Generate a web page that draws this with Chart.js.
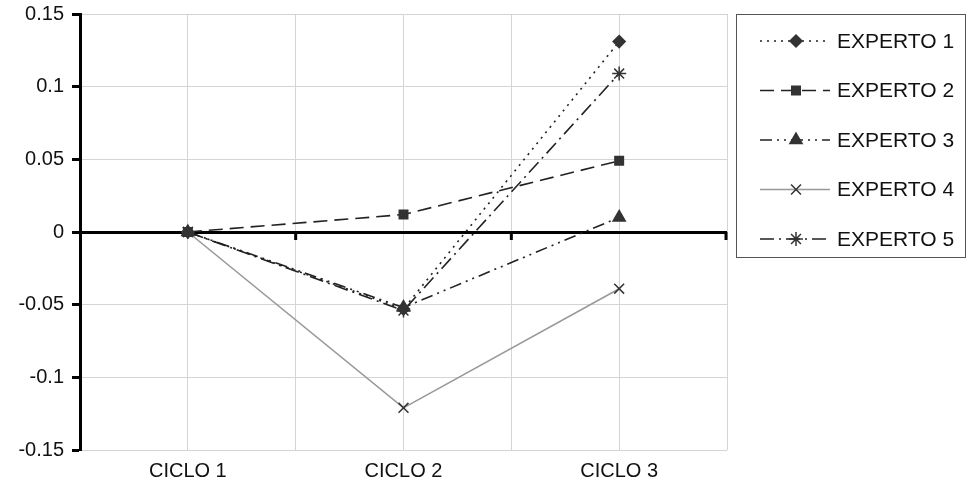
<!DOCTYPE html>
<html>
<head>
<meta charset="utf-8">
<script src="https://cdn.jsdelivr.net/npm/chart.js@4/dist/chart.umd.min.js"></script>
<style>
  html, body { margin: 0; padding: 0; background: #fff; }
  #wrap { width: 970px; height: 495px; }
</style>
</head>
<body>
<div id="wrap"><canvas id="grafico" width="970" height="495"></canvas></div>
<script>
// datos
var ciclos = ["CICLO 1", "CICLO 2", "CICLO 3"];
var experto1 = [0, -0.053, 0.131];
var experto2 = [0, 0.012, 0.049];
var experto3 = [0, -0.052, 0.010];
var experto4 = [0, -0.121, -0.039];
var experto5 = [0, -0.054, 0.109];
var nombres = ["EXPERTO 1", "EXPERTO 2", "EXPERTO 3", "EXPERTO 4", "EXPERTO 5"];

var fuente = "'Liberation Sans', Arial, sans-serif";

function puntos(valores){
    return valores.map(function(v, i){ return {x: i, y: v}; });
}

function serie(nombre, valores, color, dash, ancho, forma, radio, colorPunto){
    return {
        label: nombre,
        data: puntos(valores),
        borderColor: color,
        borderWidth: ancho,
        borderDash: dash,
        pointStyle: forma,
        pointRadius: radio,
        pointBackgroundColor: colorPunto,
        pointBorderColor: colorPunto,
        pointBorderWidth: 1.5,
        tension: 0,
        fill: false
    };
}

var series = [
    serie(nombres[0], experto1, "#222", [2, 5], 1.6, "rectRot", 6, "#333"),
    serie(nombres[1], experto2, "#222", [14, 7], 1.6, "rect", 6, "#333"),
    serie(nombres[2], experto3, "#222", [12, 5, 2, 5, 2, 5], 1.6, "triangle", 7, "#333"),
    serie(nombres[3], experto4, "#999", [], 1.6, "crossRot", 7, "#333"),
    serie(nombres[4], experto5, "#222", [14, 5, 2, 5], 1.6, "star", 7, "#333")
];

// leyenda dibujada a mano, con el estilo de linea de cada serie
var leyenda = {
    id: "leyenda",
    afterDraw: function(chart){
        var ctx = chart.ctx;
        var x0 = 736, y0 = 14, w = 229, h = 243;
        ctx.save();
        ctx.strokeStyle = "#555";
        ctx.lineWidth = 1;
        ctx.strokeRect(x0 + 0.5, y0 + 0.5, w, h);
        chart.data.datasets.forEach(function(ds, i){
            var y = 41 + i * 49.5;
            ctx.save();
            ctx.strokeStyle = ds.borderColor;
            ctx.lineWidth = ds.borderWidth;
            ctx.setLineDash(ds.borderDash);
            ctx.beginPath();
            ctx.moveTo(760, y);
            ctx.lineTo(830, y);
            ctx.stroke();
            ctx.restore();
            ctx.save();
            ctx.fillStyle = ds.pointBackgroundColor;
            ctx.strokeStyle = ds.pointBorderColor;
            ctx.lineWidth = ds.pointBorderWidth;
            Chart.helpers.drawPoint(ctx, {pointStyle: ds.pointStyle, radius: ds.pointRadius, rotation: 0, borderWidth: ds.pointBorderWidth}, 796, y);
            ctx.restore();
            ctx.fillStyle = "#111";
            ctx.font = "21px " + fuente;
            ctx.textBaseline = "middle";
            ctx.textAlign = "left";
            ctx.fillText(ds.label, 837, y + 1);
        });
        // marcas del eje horizontal en y = 0
        var sx = chart.scales.x, sy = chart.scales.y;
        var y0p = sy.getPixelForValue(0);
        ctx.strokeStyle = "#000";
        ctx.lineWidth = 3;
        [0.5, 1.5, 2.5].forEach(function(v){
            var px = sx.getPixelForValue(v) - (v == 2.5 ? 1 : 0);
            ctx.beginPath();
            ctx.moveTo(px, y0p);
            ctx.lineTo(px, y0p + 8);
            ctx.stroke();
        });
        ctx.restore();
    }
};

var ctx = document.getElementById("grafico").getContext("2d");
var chart = new Chart(ctx, {
    type: "line",
    data: { datasets: series },
    plugins: [leyenda],
    options: {
        responsive: false,
        animation: false,
        layout: { padding: { top: 14, right: 243, bottom: 0, left: 0 } },
        plugins: {
            legend: { display: false },
            tooltip: { enabled: false }
        },
        scales: {
            x: {
                type: "linear",
                min: -0.5,
                max: 2.5,
                afterFit: function(s){ s.height = 45; s.paddingLeft = 0; s.paddingRight = 0; },
                ticks: {
                    stepSize: 0.5,
                    autoSkip: false,
                    maxRotation: 0,
                    padding: 9,
                    color: "#111",
                    font: { family: fuente, size: 20 },
                    callback: function(v){
                        return Number.isInteger(v) ? ciclos[v] : "";
                    }
                },
                grid: { color: "#d4d4d4", lineWidth: 1, drawTicks: false },
                border: { display: false }
            },
            y: {
                min: -0.15,
                max: 0.15,
                afterFit: function(s){ s.width = 80; s.paddingTop = 0; s.paddingBottom = 0; },
                ticks: {
                    stepSize: 0.05,
                    padding: 8,
                    color: "#111",
                    font: { family: fuente, size: 20 },
                    callback: function(v){
                        var r = Math.round(v * 100) / 100;
                        return String(r);
                    }
                },
                grid: {
                    color: function(c){ return (c.tick && Math.abs(c.tick.value) < 1e-9) ? "#000" : "#d4d4d4"; },
                    lineWidth: function(c){ return (c.tick && Math.abs(c.tick.value) < 1e-9) ? 3 : 1; },
                    tickColor: "#000",
                    tickWidth: 3,
                    tickLength: 8
                },
                border: { display: true, color: "#000", width: 3 }
            }
        }
    }
});
</script>
</body>
</html>
